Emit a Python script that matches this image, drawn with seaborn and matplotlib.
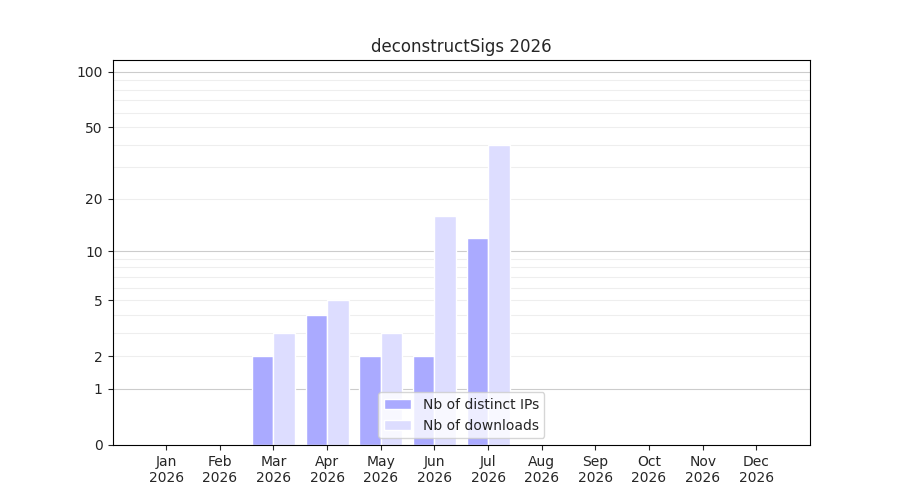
import matplotlib
matplotlib.use("Agg")
import matplotlib.pyplot as plt
import seaborn as sns
import numpy as np
import pandas as pd

months = ["Jan\n2026", "Feb\n2026", "Mar\n2026", "Apr\n2026", "May\n2026", "Jun\n2026",
          "Jul\n2026", "Aug\n2026", "Sep\n2026", "Oct\n2026", "Nov\n2026", "Dec\n2026"]
distinct_ips = [0, 0, 2, 4, 2, 2, 12, 0, 0, 0, 0, 0]
downloads = [0, 0, 3, 5, 3, 16, 40, 0, 0, 0, 0, 0]
yticks = [0, 1, 2, 5, 10, 20, 50, 100]

sns.set_style("white")
df = pd.DataFrame({
    "month": months * 2,
    "value": distinct_ips + downloads,
    "series": ["Nb of distinct IPs"] * 12 + ["Nb of downloads"] * 12,
})

fig, ax = plt.subplots(figsize=(9, 5), dpi=100)
fig.subplots_adjust(left=0.125, right=0.9, top=0.88, bottom=0.11)

ax.set_yscale("function", functions=(lambda v: np.log10(np.maximum(v, 0) + 1),
                                     lambda v: 10 ** v - 1))

minor = [3, 4, 6, 7, 8, 9, 30, 40, 60, 70, 80, 90]
for v in minor + [2, 5, 20, 50]:
    ax.axhline(v, color="#eeeeee", lw=0.8, zorder=0)
for v in [1, 10, 100]:
    ax.axhline(v, color="#cccccc", lw=0.8, zorder=0)

sns.barplot(data=df, x="month", y="value", hue="series", ax=ax,
            palette=["#aaaaff", "#ddddff"], width=0.8, saturation=1, zorder=2)

ax.set_ylim(0, 116)
ax.set_xlim(-1, 12)
ax.set_yticks(yticks)
ax.set_yticklabels([str(t) for t in yticks])
ax.set_xlabel("")
ax.set_ylabel("")
ax.set_title("deconstructSigs 2026")
for s in ax.spines.values():
    s.set_color("black")
    s.set_linewidth(0.8)
ax.tick_params(axis="both", length=3.5, left=True, bottom=True)
ax.legend(loc="lower center", title=None)

fig.savefig("out.png", dpi=100)
